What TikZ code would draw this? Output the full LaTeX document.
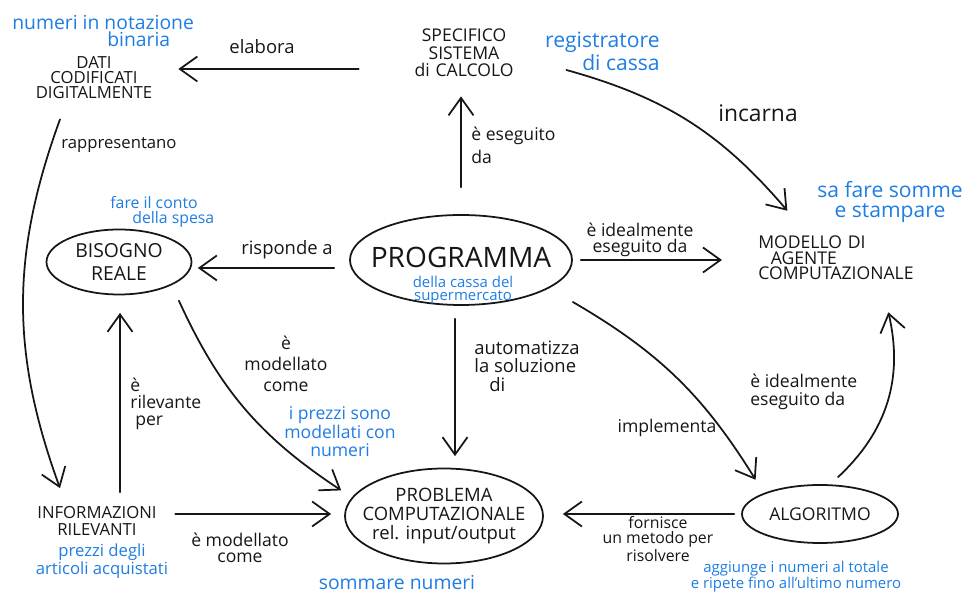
\documentclass[tikz,border=0pt]{standalone}
\usepackage{fontspec}
\setmainfont{Open Sans}
\usetikzlibrary{arrows.meta,shapes.geometric}
\definecolor{sketchink}{HTML}{161616}
\definecolor{sketchblue}{HTML}{1E7DE3}
\newcommand{\fsz}[1]{\fontsize{#1}{#1}\selectfont}

\begin{document}
\begin{tikzpicture}[
  x=0.2mm,
  y=-0.2mm,
  line join=round,
  line cap=round,
  every node/.style={text=sketchink},
  concept/.style={inner sep=0pt,align=center,font=\fsz{9}},
  oval/.style={ellipse,draw=sketchink,line width=1pt,inner sep=-30pt,align=center},
  link/.style={inner sep=0pt,font=\fsz{10}},
  note/.style={text=sketchblue,inner sep=0pt,font=\fsz{10}},
  arr/.style={draw=sketchink,line width=1pt,-{Straight Barb[length=3.5mm,width=5mm]}}
]
  % The sketch is laid out on the 965x593 pixel grid of the scan, y downwards.
  \useasboundingbox (0,0) rectangle (965,593);

  % Concepts of the map.
  \node[concept,text width=2.6cm,font=\fontsize{9.5}{8.5}\selectfont] (dati) at (94,78) {DATI\\CODIFICATI\\DIGITALMENTE};
  \node[concept,text width=2.3cm,font=\fsz{10}] (sistema) at (464,53) {SPECIFICO\\SISTEMA\\di CALCOLO};
  \node[concept,text width=3.2cm,align=left,anchor=west,font=\fontsize{10}{8.8}\selectfont] (modello) at (758,258)
    {MODELLO DI\\\hspace*{0.25cm}AGENTE\\COMPUTAZIONALE};
  \node[oval,minimum width=2.9cm,minimum height=1.3cm,font=\fontsize{11}{13.5}\selectfont] (bisogno) at (119,262) {BISOGNO\\REALE};
  \node[oval,minimum width=4.44cm,minimum height=1.8cm,font=\fsz{16}] (prog) at (461,260)
    {\raisebox{-4pt}[0pt][0pt]{PROGRAMMA}};
  \node[oval,minimum width=3.96cm,minimum height=1.9cm,font=\fontsize{10.5}{11}\selectfont] (problema) at (444,516)
    {PROBLEMA\\COMPUTAZIONALE\\rel. input/output};
  \node[oval,minimum width=3.12cm,minimum height=1.16cm] (algoritmo) at (820,514) {ALGORITMO};
  \node[concept,text width=2.6cm,font=\fontsize{9.5}{9.6}\selectfont] (informazioni) at (97,521) {INFORMAZIONI\\RILEVANTI};

  % Blue examples from the supermarket till.
  \node[note,align=left,anchor=west,font=\fontsize{11}{10}\selectfont] (binaria) at (12,31)
    {numeri in notazione\\\hspace*{1.9cm}binaria};
  \node[note,align=right,anchor=east,font=\fontsize{12}{10}\selectfont] (cassa) at (660,51) {registratore\\di cassa};
  \node[note,align=center,font=\fontsize{12}{11}\selectfont] (somme) at (890,202) {sa fare somme\\e stampare};
  \node[note,align=left,anchor=west,font=\fontsize{9}{8.5}\selectfont] (spesa) at (110,212)
    {fare il conto\\\hspace*{0.44cm}della spesa};
  \node[note,align=center,font=\fontsize{8.5}{7.5}\selectfont] (progkind) at (463,290) {della cassa del\\supermercato};
  \node[note,align=center,font=\fontsize{10}{10.5}\selectfont] (prezzinumeri) at (340,432)
    {i prezzi sono\\modellati con\\numeri};
  \node[note,align=center,font=\fontsize{9.5}{10}\selectfont] (articoli) at (102,561) {prezzi degli\\articoli acquistati};
  \node[note,font=\fsz{11}] (sommare) at (397,583) {sommare numeri};
  \node[note,align=center,font=\fontsize{8.5}{9}\selectfont] (aggiunge) at (796,577)
    {aggiunge i numeri al totale\\e ripete fino all'ultimo numero};

  % Straight links.
  \draw[arr] ([xshift=-0.95cm,yshift=-0.32cm]sistema.west) -- ([xshift=0.38cm,yshift=0.18cm]dati.east);
  \draw[arr,shorten <=0.54cm,shorten >=0.38cm] (prog.north) -- (prog.north |- sistema.south);
  \draw[arr,shorten <=0.16cm,shorten >=0.72cm] (prog.east) -- (prog.east -| modello.west);
  \draw[arr,shorten <=0.3cm,shorten >=0.11cm] ([yshift=-0.16cm]prog.west) -- ([yshift=-0.16cm]prog.west -| bisogno.east);
  \draw[arr,shorten <=0.26cm,shorten >=0.23cm] ([xshift=-0.12cm]prog.south) -- ([xshift=-0.12cm]prog.south |- problema.north);
  \draw[arr,shorten <=0.28cm,shorten >=0.35cm] ([xshift=0.46cm]informazioni.north) -- ([xshift=0.46cm]informazioni.north |- bisogno.south);
  \draw[arr,shorten <=0.26cm,shorten >=0.26cm] ([yshift=0.14cm]informazioni.east) -- ([yshift=0.14cm]informazioni.east -| problema.west);
  \draw[arr,shorten <=0.14cm,shorten >=0.38cm] (algoritmo.west) -- (algoritmo.west -| problema.east);

  % Curved links.
  \draw[arr] ([xshift=0.89cm,yshift=-0.34cm]sistema.east) to[bend left=17] ([xshift=-1.02cm,yshift=0.5cm]modello.north);
  \draw[arr] ([xshift=0.29cm,yshift=-0.25cm]bisogno.-30) to[bend right=16] ([xshift=-0.28cm,yshift=0.07cm]problema.166);
  \draw[arr] ([xshift=-0.68cm,yshift=-0.4cm]dati.south) to[bend right=20] ([xshift=-0.74cm,yshift=0.36cm]informazioni.north);
  \draw[arr] ([yshift=-0.84cm]prog.east) to[bend left=14] ([xshift=-0.15cm,yshift=0.27cm]algoritmo.160);
  \draw[arr] ([xshift=0.36cm,yshift=0.14cm]algoritmo.north) to[bend right=30] ([xshift=1.0cm,yshift=-0.64cm]modello.south);

  % Link labels.
  \node[link,font=\fsz{10.5}] (elabora) at (262,47) {elabora};
  \node[link,align=left,anchor=west,font=\fontsize{10}{13}\selectfont] (eseguito) at (471,145) {è eseguito\\da};
  \node[link,font=\fsz{13}] (incarna) at (758,113) {incarna};
  \node[link,font=\fsz{10.5}] (risponde) at (287,250) {risponde a};
  \node[link,align=center,font=\fontsize{10}{9}\selectfont] (ideale) at (640,240) {è idealmente\\eseguito da};
  \node[link,align=left,anchor=west,font=\fontsize{10.5}{10.5}\selectfont] (automatizza) at (474,366)
    {automatizza\\la soluzione\\\hspace*{0.3cm}di};
  \node[link,align=center,font=\fontsize{10}{11.9}\selectfont] (modellato) at (286,364) {è\\modellato\\come};
  \node[link,align=left,anchor=west,font=\fontsize{10}{9.5}\selectfont] (rilevante) at (130,404)
    {è\\rilevante\\\hspace*{0.1cm}per};
  \node[link,anchor=west,font=\fsz{9.5}] (rappresentano) at (61,145) {rappresentano};
  \node[link,align=center,font=\fontsize{10}{9.5}\selectfont] (modellatoinfo) at (240,548) {è modellato\\come};
  \node[link] (implementa) at (667,428) {implementa};
  \node[link,align=center,font=\fontsize{9}{8.5}\selectfont] (fornisce) at (658,539) {fornisce\\un metodo per\\risolvere};
  \node[link,align=left,anchor=west,font=\fontsize{10}{10.5}\selectfont] (idealealg) at (750,392) {è idealmente\\eseguito da};
\end{tikzpicture}
\end{document}
